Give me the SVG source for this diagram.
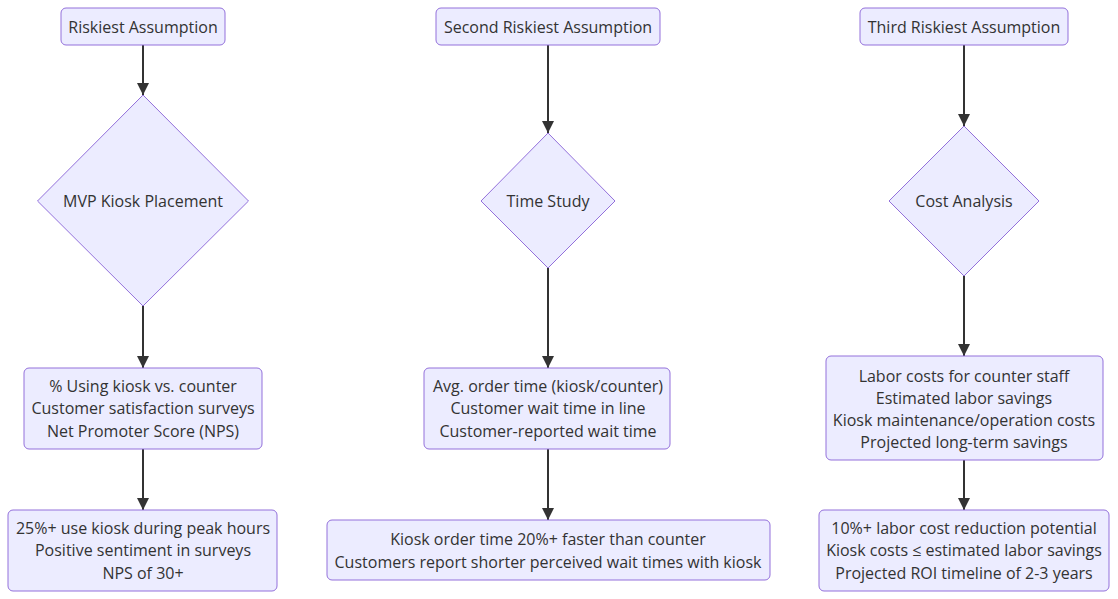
<svg xmlns="http://www.w3.org/2000/svg" width="1118" height="599" viewBox="0 0 1118 599">
<defs>
<marker id="ah" viewBox="0 0 12 12" refX="12" refY="6" markerWidth="12" markerHeight="12" markerUnits="userSpaceOnUse" orient="auto">
<path d="M0,0 L12,6 L0,12 Z" fill="#333333"/>
</marker>
</defs>
<style>
.n{fill:#ECECFF;stroke:#9370DB;stroke-width:1}
.t{font-family:"Open Sans","Noto Sans",sans-serif;font-size:16px;fill:#333333;text-anchor:middle;dominant-baseline:central}
.e{stroke:#333333;stroke-width:2;fill:none;marker-end:url(#ah)}
</style>
<rect width="1118" height="599" fill="#ffffff"/>
<g id="connectors">
<path class="e" d="M143,45 L143,95"/>
<path class="e" d="M143,306 L143,368"/>
<path class="e" d="M143,449 L143,510"/>
<path class="e" d="M548,45 L548,133"/>
<path class="e" d="M548,268 L548,368"/>
<path class="e" d="M548,449 L548,520"/>
<path class="e" d="M964,45 L964,126"/>
<path class="e" d="M964,276 L964,356"/>
<path class="e" d="M964,460 L964,510"/>
</g>
<g id="A1">
<rect class="n" x="61" y="8" width="164" height="37" rx="5"/>
<text class="t" x="143" y="27">Riskiest Assumption</text>
</g>
<g id="A2">
<path class="n" d="M143,95 L248.5,201 L143,306 L37.5,201 Z"/>
<text class="t" x="143" y="201">MVP Kiosk Placement</text>
</g>
<g id="A3">
<rect class="n" x="24" y="368" width="238" height="81" rx="5"/>
<text class="t" x="143" y="386">% Using kiosk vs. counter</text>
<text class="t" x="143" y="408">Customer satisfaction surveys</text>
<text class="t" x="143" y="431">Net Promoter Score (NPS)</text>
</g>
<g id="A4">
<rect class="n" x="8" y="510" width="269" height="81" rx="5"/>
<text class="t" x="143" y="528">25%+ use kiosk during peak hours</text>
<text class="t" x="143" y="550">Positive sentiment in surveys</text>
<text class="t" x="143" y="573">NPS of 30+</text>
</g>
<g id="B1">
<rect class="n" x="436" y="8" width="224" height="37" rx="5"/>
<text class="t" x="548" y="27">Second Riskiest Assumption</text>
</g>
<g id="B2">
<path class="n" d="M548,133 L615,201 L548,268 L481,201 Z"/>
<text class="t" x="548" y="201">Time Study</text>
</g>
<g id="B3">
<rect class="n" x="424" y="368" width="246" height="81" rx="5"/>
<text class="t" x="548" y="386">Avg. order time (kiosk/counter)</text>
<text class="t" x="548" y="408">Customer wait time in line</text>
<text class="t" x="548" y="431">Customer-reported wait time</text>
</g>
<g id="B4">
<rect class="n" x="327" y="520" width="443" height="60" rx="5"/>
<text class="t" x="548" y="539">Kiosk order time 20%+ faster than counter</text>
<text class="t" x="548" y="562">Customers report shorter perceived wait times with kiosk</text>
</g>
<g id="C1">
<rect class="n" x="860" y="8" width="208" height="37" rx="5"/>
<text class="t" x="964" y="27">Third Riskiest Assumption</text>
</g>
<g id="C2">
<path class="n" d="M964,126 L1039,201 L964,276 L889,201 Z"/>
<text class="t" x="964" y="201">Cost Analysis</text>
</g>
<g id="C3">
<rect class="n" x="826" y="356" width="277" height="104" rx="5"/>
<text class="t" x="964" y="376">Labor costs for counter staff</text>
<text class="t" x="964" y="398">Estimated labor savings</text>
<text class="t" x="964" y="420">Kiosk maintenance/operation costs</text>
<text class="t" x="964" y="442">Projected long-term savings</text>
</g>
<g id="C4">
<rect class="n" x="819" y="510" width="290" height="81" rx="5"/>
<text class="t" x="964" y="528">10%+ labor cost reduction potential</text>
<text class="t" x="964" y="550">Kiosk costs ≤ estimated labor savings</text>
<text class="t" x="964" y="573">Projected ROI timeline of 2-3 years</text>
</g>
</svg>
